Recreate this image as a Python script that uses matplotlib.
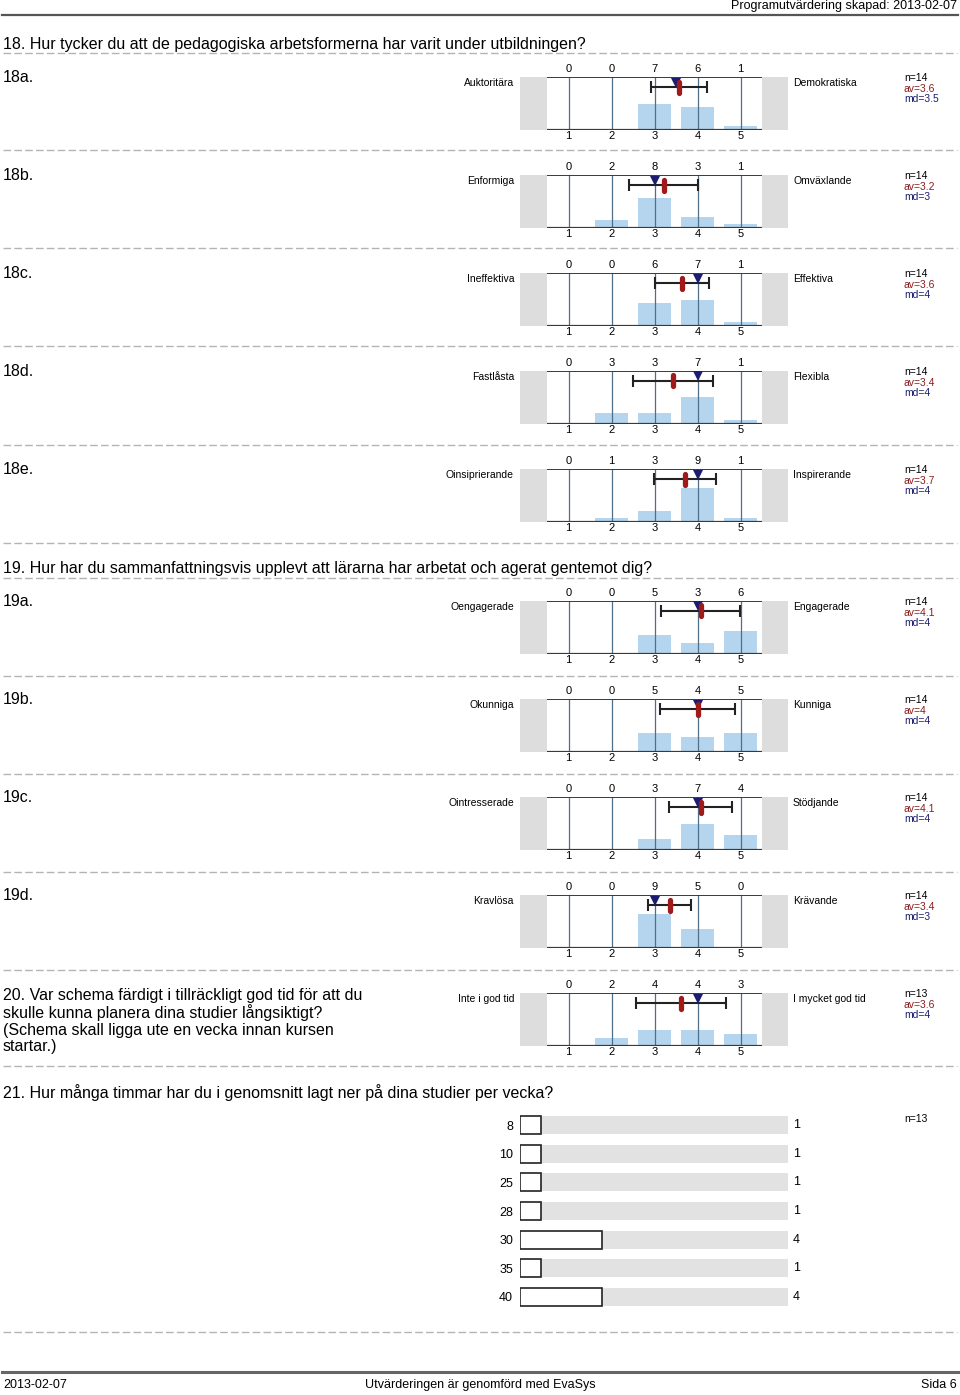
import numpy as np
import matplotlib
matplotlib.use("Agg")
import matplotlib.pyplot as plt
from matplotlib.patches import Rectangle

plt.rcParams['font.family'] = ['Liberation Sans', 'DejaVu Sans']

# ---- data ----
header_text = "Programutvärdering skapad: 2013-02-07"
q18_title = "18. Hur tycker du att de pedagogiska arbetsformerna har varit under utbildningen?"
q19_title = "19. Hur har du sammanfattningsvis upplevt att lärarna har arbetat och agerat gentemot dig?"
q20_title = ("20. Var schema färdigt i tillräckligt god tid för att du\n"
             "skulle kunna planera dina studier långsiktigt?\n"
             "(Schema skall ligga ute en vecka innan kursen\n"
             "startar.)")
q21_title = "21. Hur många timmar har du i genomsnitt lagt ner på dina studier per vecka?"

item_ids = ["18a.", "18b.", "18c.", "18d.", "18e.", "19a.", "19b.", "19c.", "19d.", ""]
left_labels = ["Auktoritära", "Enformiga", "Ineffektiva", "Fastlåsta", "Oinsiprierande",
               "Oengagerade", "Okunniga", "Ointresserade", "Kravlösa", "Inte i god tid"]
right_labels = ["Demokratiska", "Omväxlande", "Effektiva", "Flexibla", "Inspirerande",
                "Engagerade", "Kunniga", "Stödjande", "Krävande", "I mycket god tid"]
counts = [
    [0, 0, 7, 6, 1],
    [0, 2, 8, 3, 1],
    [0, 0, 6, 7, 1],
    [0, 3, 3, 7, 1],
    [0, 1, 3, 9, 1],
    [0, 0, 5, 3, 6],
    [0, 0, 5, 4, 5],
    [0, 0, 3, 7, 4],
    [0, 0, 9, 5, 0],
    [0, 2, 4, 4, 3],
]
scale = [1, 2, 3, 4, 5]

hours = ["8", "10", "25", "28", "30", "35", "40"]
hours_counts = [1, 1, 1, 1, 4, 1, 4]
hours_n = 13

footer_left = "2013-02-07"
footer_mid = "Utvärderingen är genomförd med EvaSys"
footer_right = "Sida 6"

# ---- layout (pixels) ----
W, H = 960, 1395
block_tops = [77, 175, 273, 371, 469, 601, 699, 797, 895, 993]
dash_ys = [53, 150, 248, 346, 445, 543, 578, 676, 774, 872, 970, 1066, 1332]
PX = 0.72  # points per pixel at dpi 100

bar_col = '#b5d4ed'
vline_col = '#4f6f88'
grey_box = '#dddddd'
av_col = '#8c1c1c'
md_col = '#1c1c70'


def fig_rect(x0, y0, x1, y1):
    return [x0 / W, 1 - y1 / H, (x1 - x0) / W, (y1 - y0) / H]


fig = plt.figure(figsize=(9.6, 13.95), dpi=100)
bg = fig.add_axes([0, 0, 1, 1])
bg.set_xlim(0, W)
bg.set_ylim(H, 0)
bg.axis('off')

# header / footer
bg.text(957, 6, header_text, ha='right', va='center', fontsize=9)
bg.plot([2, 958], [15, 15], color='#555555', lw=1.6)
bg.plot([2, 958], [1372, 1372], color='#666666', lw=2.2)
bg.text(3, 1385, footer_left, ha='left', va='center', fontsize=9)
bg.text(480, 1385, footer_mid, ha='center', va='center', fontsize=9)
bg.text(957, 1385, footer_right, ha='right', va='center', fontsize=9)

for y in dash_ys:
    bg.plot([3, 957], [y, y], color='#b4b4b4', lw=1.0, dashes=(5.5, 2.3))

bg.text(3, 44, q18_title, ha='left', va='center', fontsize=11.5)
bg.text(3, 569, q19_title, ha='left', va='center', fontsize=11.5)
bg.text(3, 988, q20_title, ha='left', va='top', fontsize=11.5, linespacing=1.1)
bg.text(3, 1093, q21_title, ha='left', va='center', fontsize=11.5)

# ---- scale items ----
for k, T in enumerate(block_tops):
    c = np.array(counts[k])
    n = c.sum()
    vals = np.repeat(scale, c)
    mean = vals.mean()
    sd = vals.std(ddof=1)
    med = np.median(vals)

    if item_ids[k]:
        bg.text(3, T, item_ids[k], ha='left', va='center', fontsize=11.5)
    bg.text(514, T + 6, left_labels[k], ha='right', va='center', fontsize=7.5)
    bg.text(793, T + 6, right_labels[k], ha='left', va='center', fontsize=7.5)
    bg.add_patch(Rectangle((520, T), 27, 53, color=grey_box, lw=0))
    bg.add_patch(Rectangle((762, T), 26, 53, color=grey_box, lw=0))
    bg.text(904, T + 1, f"n={n}", ha='left', va='center', fontsize=7.5, color='black')
    bg.text(904, T + 11.5, f"av={round(mean, 1):g}", ha='left', va='center', fontsize=7.5, color=av_col)
    bg.text(904, T + 22, f"md={med:g}", ha='left', va='center', fontsize=7.5, color=md_col)

    ax = fig.add_axes(fig_rect(547, T, 762, T + 53))
    ax.set_xlim(0.5, 5.5)
    ax.set_ylim(0, 1)
    ax.axis('off')
    ax.bar(scale, c / n, width=0.77, color=bar_col, zorder=1)
    for v in scale:
        ax.axvline(v, color=vline_col, lw=0.9, zorder=2)
    ax.axhline(1, color='#3a3a3a', lw=1.4, zorder=3)
    ax.axhline(0, color='#3a3a3a', lw=1.6, zorder=3)
    for v, cnt in zip(scale, c):
        ax.annotate(str(cnt), xy=(v, 1), xytext=(0, 8 * PX), textcoords='offset points',
                    ha='center', va='center', fontsize=8, annotation_clip=False)
        ax.annotate(str(v), xy=(v, 0), xytext=(0, -6 * PX), textcoords='offset points',
                    ha='center', va='center', fontsize=8, annotation_clip=False)
    ey = 1 - 10 / 53
    ax.errorbar(mean, ey, xerr=sd, fmt='none', ecolor='#222222', elinewidth=1.5,
                capsize=4, capthick=1.5, zorder=4)
    ax.plot([med], [ey + 4.5 / 53], marker='v', color=md_col, markersize=6.5,
            markeredgewidth=0, zorder=5)
    ax.plot([mean, mean], [ey - 5.5 / 53, ey + 5.5 / 53], color='#a01a1a', lw=3.8,
            solid_capstyle='round', zorder=6)

# ---- question 21 ----
bg.text(904, 1119, f"n={hours_n}", ha='left', va='center', fontsize=7.5)
ax = fig.add_axes(fig_rect(520, 1111, 788, 1311))
ax.set_xlim(0, hours_n)
ax.set_ylim(len(hours) - 0.5, -0.5)
for s in ax.spines.values():
    s.set_visible(False)
ypos = np.arange(len(hours))
ax.barh(ypos, [hours_n] * len(hours), height=0.63, color='#e2e2e2', zorder=1)
ax.barh(ypos, hours_counts, height=0.63, color='white', edgecolor='#222222', lw=1.2, zorder=2)
ax.set_xticks([])
ax.set_yticks(ypos)
ax.set_yticklabels(hours, fontsize=9)
ax.tick_params(axis='y', length=0, pad=5)
for i, cnt in enumerate(hours_counts):
    ax.annotate(str(cnt), xy=(hours_n, i), xytext=(5 * PX, 0), textcoords='offset points',
                ha='left', va='center', fontsize=9, annotation_clip=False)

fig.savefig("out.png", dpi=100)
